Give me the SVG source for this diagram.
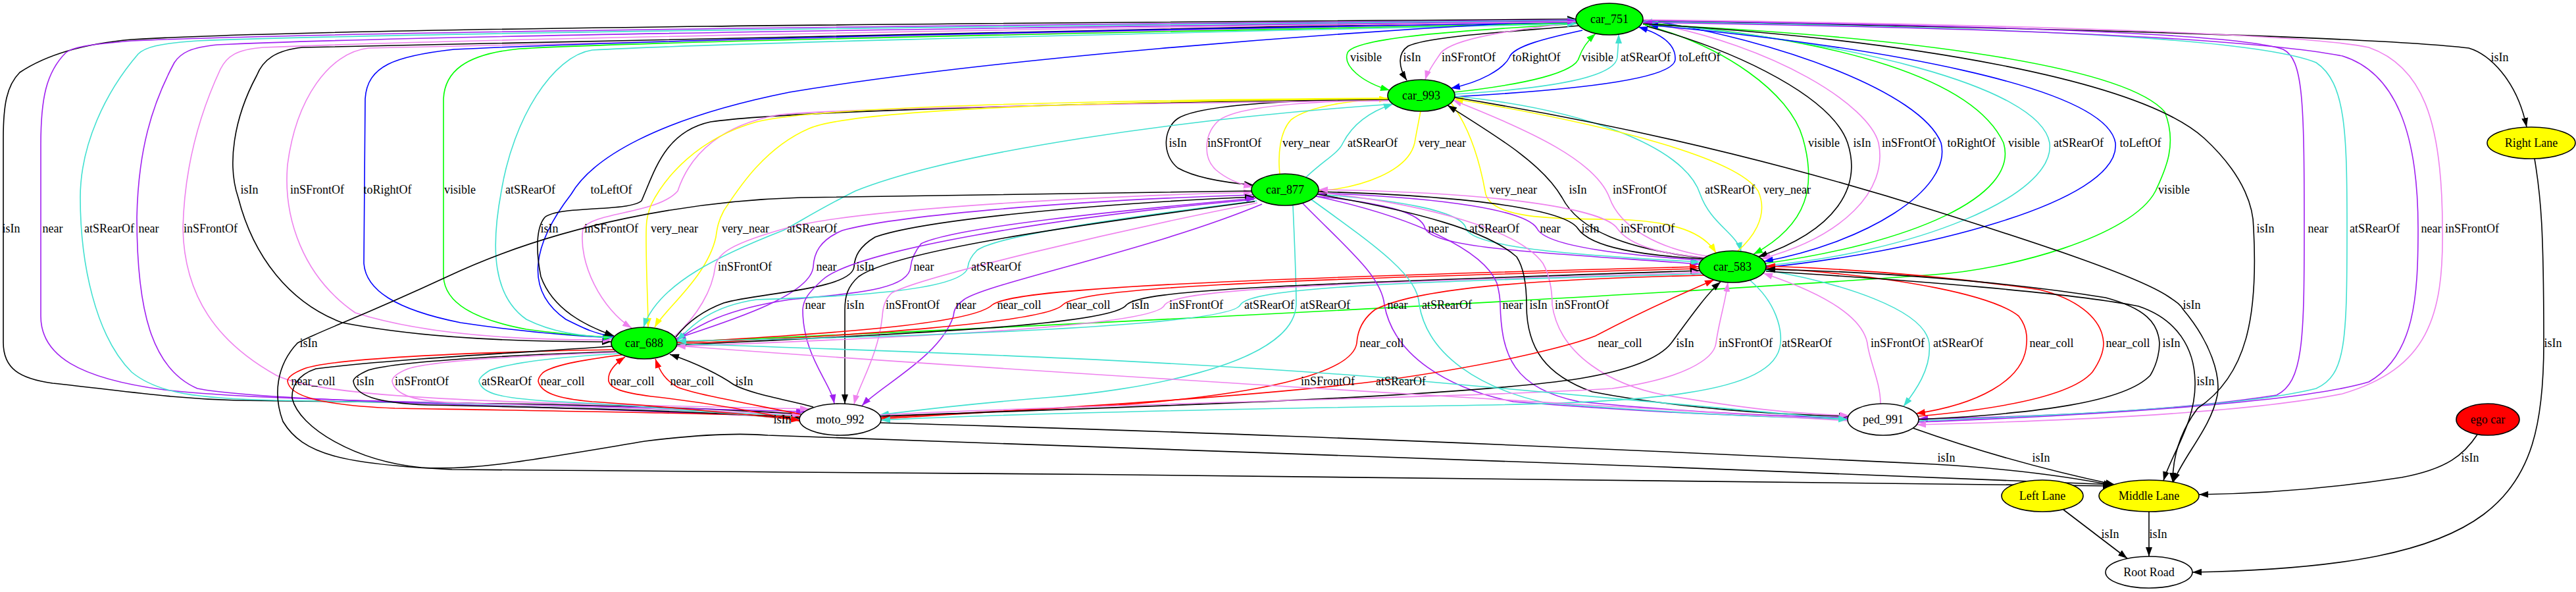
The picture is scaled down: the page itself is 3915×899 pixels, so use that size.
<svg xmlns="http://www.w3.org/2000/svg" width="3915" height="899" viewBox="0 0 3915 899">
<style>
.e{fill:none;stroke-width:1.6}
.k{stroke:#000}.g{stroke:#00ff00}.b{stroke:#0000ff}.t{stroke:#40e0d0}.v{stroke:#ee82ee}.p{stroke:#a020f0}.y{stroke:#ffff00}.r{stroke:#ff0000}
.n{stroke:#000;stroke-width:1.6}
.l{font-family:"Liberation Serif","Times New Roman",serif;font-size:18px;text-anchor:middle;fill:#000}
</style>
<defs>
<marker id="mk" viewBox="0 0 14 10" refX="14" refY="5" markerWidth="14" markerHeight="10" markerUnits="userSpaceOnUse" orient="auto-start-reverse"><path d="M0,0L14,5L0,10z" fill="#000"/></marker>
<marker id="mg" viewBox="0 0 14 10" refX="14" refY="5" markerWidth="14" markerHeight="10" markerUnits="userSpaceOnUse" orient="auto-start-reverse"><path d="M0,0L14,5L0,10z" fill="#00ff00"/></marker>
<marker id="mb" viewBox="0 0 14 10" refX="14" refY="5" markerWidth="14" markerHeight="10" markerUnits="userSpaceOnUse" orient="auto-start-reverse"><path d="M0,0L14,5L0,10z" fill="#0000ff"/></marker>
<marker id="mt" viewBox="0 0 14 10" refX="14" refY="5" markerWidth="14" markerHeight="10" markerUnits="userSpaceOnUse" orient="auto-start-reverse"><path d="M0,0L14,5L0,10z" fill="#40e0d0"/></marker>
<marker id="mv" viewBox="0 0 14 10" refX="14" refY="5" markerWidth="14" markerHeight="10" markerUnits="userSpaceOnUse" orient="auto-start-reverse"><path d="M0,0L14,5L0,10z" fill="#ee82ee"/></marker>
<marker id="mp" viewBox="0 0 14 10" refX="14" refY="5" markerWidth="14" markerHeight="10" markerUnits="userSpaceOnUse" orient="auto-start-reverse"><path d="M0,0L14,5L0,10z" fill="#a020f0"/></marker>
<marker id="my" viewBox="0 0 14 10" refX="14" refY="5" markerWidth="14" markerHeight="10" markerUnits="userSpaceOnUse" orient="auto-start-reverse"><path d="M0,0L14,5L0,10z" fill="#ffff00"/></marker>
<marker id="mr" viewBox="0 0 14 10" refX="14" refY="5" markerWidth="14" markerHeight="10" markerUnits="userSpaceOnUse" orient="auto-start-reverse"><path d="M0,0L14,5L0,10z" fill="#ff0000"/></marker>
</defs>
<rect width="3915" height="899" fill="#fff"/>
<g id="connectors">
<!-- A 751-993 -->
<path class="e g" d="M2398,36 C2250,45 2060,55 2048,80 C2040,100 2070,125 2112,137" marker-end="url(#mg)"/>
<path class="e k" d="M2400,39 C2300,48 2170,55 2140,70 C2125,80 2124,100 2138,122" marker-end="url(#mk)"/>
<path class="e v" d="M2397,34 C2300,45 2210,58 2190,80 C2180,95 2170,108 2166,121" marker-end="url(#mv)"/>
<path class="e b" d="M2405,46 C2350,58 2300,70 2294,87 C2285,105 2250,125 2205,134" marker-end="url(#mb)"/>
<path class="e g" d="M2210,140 C2320,128 2395,110 2400,87 C2405,72 2415,60 2425,51" marker-end="url(#mg)"/>
<path class="e t" d="M2211,143 C2350,135 2455,118 2458,87 C2459,72 2460,62 2460,52" marker-end="url(#mt)"/>
<path class="e b" d="M2210,147 C2420,135 2545,118 2546,90 C2547,65 2520,50 2490,41" marker-end="url(#mb)"/>
<!-- B -->
<path class="e k" d="M2497,32 C3000,40 3600,55 3752,73 C3782,82 3825,120 3840,193" marker-end="url(#mk)"/>
<!-- C 993-877 -->
<path class="e k" d="M2110,150 C1950,152 1820,160 1790,180 C1768,195 1765,235 1790,255 C1820,272 1870,278 1905,281" marker-end="url(#mk)"/>
<path class="e v" d="M2110,152 C1960,154 1870,165 1850,185 C1830,205 1828,240 1848,258 C1862,270 1880,279 1904,284" marker-end="url(#mv)"/>
<path class="e y" d="M1945,264 C1942,235 1945,200 1962,182 C1990,160 2060,152 2110,150" marker-end="url(#my)"/>
<path class="e t" d="M1985,269 C2010,245 2035,232 2041,217 C2055,190 2080,170 2117,158" marker-end="url(#mt)"/>
<path class="e y" d="M2159,169 C2155,190 2152,205 2150,217 C2140,260 2070,285 2004,290" marker-end="url(#my)"/>
<!-- D 751-583 -->
<path class="e g" d="M2500,38 C2620,70 2720,140 2740,210 C2760,280 2750,340 2665,386" marker-end="url(#mg)"/>
<path class="e k" d="M2503,40 C2650,80 2785,150 2808,217 C2830,285 2790,350 2672,390" marker-end="url(#mk)"/>
<path class="e v" d="M2505,34 C2700,70 2840,160 2855,217 C2870,290 2800,360 2677,393" marker-end="url(#mv)"/>
<path class="e b" d="M2505,31 C2700,60 2920,140 2950,217 C2968,290 2830,370 2681,397" marker-end="url(#mb)"/>
<path class="e g" d="M2506,35 C2800,60 3000,120 3045,217 C3070,300 2900,370 2683,400" marker-start="url(#mg)"/>
<path class="e t" d="M2506,36 C2800,60 3100,130 3115,217 C3125,300 2900,385 2684,403" marker-start="url(#mt)"/>
<path class="e b" d="M2506,38 C2850,70 3200,130 3215,217 C3225,310 2900,385 2684,406" marker-start="url(#mb)"/>
<!-- E 751-688 -->
<path class="e k" d="M2396,31 C1500,45 800,62 460,72 C420,76 400,90 390,115 C355,180 345,250 362,300 C385,390 440,460 520,490 C650,515 800,519 929,519" marker-end="url(#mk)"/>
<path class="e v" d="M2396,33 C1600,45 900,60 560,73 C500,80 450,150 437,250 C430,330 460,420 540,475 C650,510 800,517 930,516" marker-end="url(#mv)"/>
<path class="e b" d="M2396,34 C1700,45 1000,60 690,75 C600,85 558,100 555,150 L553,400 C556,440 600,470 700,490 C800,505 870,510 930,513" marker-end="url(#mb)"/>
<path class="e g" d="M2396,35 C1700,50 1000,62 790,74 C705,82 676,110 674,150 L674,420 C676,460 720,485 800,500 C860,508 900,511 931,512" marker-end="url(#mg)"/>
<path class="e t" d="M2396,36 C1700,52 1100,65 900,76 C840,85 780,180 762,290 C745,380 750,450 800,485 C840,505 880,510 932,513" marker-start="url(#mt)"/>
<path class="e b" d="M2396,30 C2000,50 1500,90 1200,140 C1000,180 900,240 868,295 C810,370 795,440 860,485 C890,500 905,507 932,511" marker-start="url(#mb)"/>
<path class="e g" d="M2497,37 C2900,55 3230,100 3290,170 C3310,220 3290,260 3276,290 C3240,360 3050,410 2940,417 C2500,450 1500,500 1029,519" marker-end="url(#mg)"/>
<!-- F 993-583 -->
<path class="e y" d="M2205,156 C2235,195 2250,250 2258,295 C2268,330 2350,333 2450,333 C2550,335 2590,355 2608,384" marker-end="url(#my)"/>
<path class="e k" d="M2200,160 C2280,210 2345,250 2374,300 C2400,350 2470,378 2590,392" marker-start="url(#mk)"/>
<path class="e v" d="M2208,152 C2330,200 2425,245 2446,300 C2462,345 2520,378 2595,389" marker-start="url(#mv)"/>
<path class="e t" d="M2211,146 C2400,165 2560,220 2584,295 C2600,340 2640,355 2646,382" marker-end="url(#mt)"/>
<path class="e y" d="M2210,150 C2450,190 2640,240 2672,290 C2690,330 2660,365 2640,382" marker-start="url(#my)"/>
<!-- G 751-moto far left -->
<path class="e k" d="M2396,29 C1500,35 500,42 200,60 C110,68 60,90 30,110 C10,130 5,160 5,210 L5,520 C5,560 30,575 80,582 C200,595 260,605 360,608 C700,612 1000,614 1218,629" marker-start="url(#mk)"/>
<path class="e p" d="M2396,30 C1500,38 500,48 200,62 C130,68 110,72 100,80 C70,110 62,150 62,220 L62,480 C62,540 120,575 250,592 C400,610 800,613 1224,625" marker-end="url(#mp)"/>
<path class="e t" d="M2396,31 C1500,40 600,50 300,62 C240,66 220,72 210,82 C160,140 122,220 122,300 C122,400 145,510 200,565 C240,598 300,605 420,608 C800,614 1000,620 1215,632" marker-start="url(#mt)"/>
<path class="e p" d="M2396,32 C1500,42 600,55 330,68 C290,72 275,80 265,95 C230,160 210,230 208,330 C208,470 230,560 300,590 C400,610 800,615 1215,634" marker-start="url(#mp)"/>
<path class="e v" d="M2396,33 C1500,44 700,60 400,72 C360,75 345,85 335,105 C300,180 280,260 278,347 C280,450 330,520 420,570 C500,608 800,612 1230,621" marker-end="url(#mv)"/>
<!-- H 993-688 -->
<path class="e k" d="M2110,151 C1700,155 1200,168 1080,185 C1010,200 995,260 975,305 C955,322 850,312 828,330 C815,345 814,380 822,420 C840,470 890,495 933,510" marker-end="url(#mk)"/>
<path class="e v" d="M2110,153 C1700,157 1250,165 1180,175 C1100,190 1050,230 1030,290 C1000,325 900,322 886,347 C878,400 915,470 960,498" marker-end="url(#mv)"/>
<path class="e y" d="M2110,149 C1700,152 1250,160 1150,185 C1060,210 1010,270 990,310 C982,330 982,340 982,360 C982,420 985,460 985,497" marker-end="url(#my)"/>
<path class="e y" d="M2110,150 C1700,153 1300,165 1230,195 C1160,225 1120,290 1100,320 C1092,335 1090,345 1088,360 C1075,420 1010,470 995,497" marker-end="url(#my)"/>
<path class="e t" d="M2117,158 C1800,180 1450,230 1300,290 C1240,320 1210,340 1190,350 C1100,385 1000,430 978,497" marker-end="url(#mt)"/>
<!-- I 877-583 -->
<path class="e p" d="M2000,298 C2100,308 2160,322 2166,347 C2180,378 2350,384 2583,401" marker-end="url(#mp)"/>
<path class="e t" d="M2002,295 C2120,303 2222,320 2228,347 C2238,380 2450,390 2584,398" marker-end="url(#mt)"/>
<path class="e p" d="M2002,293 C2200,300 2320,320 2336,347 C2350,376 2480,388 2586,395" marker-start="url(#mp)"/>
<path class="e k" d="M2003,291 C2250,298 2380,320 2398,347 C2418,377 2500,388 2588,393" marker-start="url(#mk)"/>
<path class="e v" d="M2004,288 C2300,292 2440,320 2458,347 C2478,375 2530,386 2590,391" marker-start="url(#mv)"/>
<!-- J, K 751-ped / ML -->
<path class="e p" d="M2497,31 C3000,38 3400,50 3470,75 C3500,90 3502,150 3502,347 C3502,520 3500,580 3460,600 C3300,625 3100,633 2916,636" marker-end="url(#mp)"/>
<path class="e t" d="M2497,33 C3000,40 3420,55 3520,95 C3565,125 3567,200 3567,347 C3567,520 3565,570 3520,590 C3400,620 3100,632 2916,639" marker-start="url(#mt)"/>
<path class="e p" d="M2497,34 C3000,42 3400,55 3560,85 C3640,110 3675,200 3675,347 C3675,450 3670,540 3600,580 C3500,610 3200,630 2915,641" marker-start="url(#mp)"/>
<path class="e v" d="M2497,30 C3000,36 3500,50 3600,72 C3680,100 3712,180 3712,347 C3714,480 3690,560 3560,598 C3400,630 3100,640 2913,645" marker-end="url(#mv)"/>
<path class="e k" d="M2497,36 C2900,60 3250,120 3350,210 C3415,270 3425,320 3425,347 C3432,480 3415,570 3340,620 C3310,660 3302,700 3302,732" marker-end="url(#mk)"/>
<!-- L 877-688 -->
<path class="e v" d="M1904,292 C1600,300 1300,320 1200,345 C1110,370 1090,385 1087,405 C1083,440 1060,480 1025,511" marker-start="url(#mv)"/>
<path class="e p" d="M1905,296 C1600,305 1350,330 1280,350 C1245,365 1237,385 1236,405 C1232,450 1100,490 1028,514" marker-end="url(#mp)"/>
<path class="e k" d="M1906,299 C1650,310 1400,335 1330,360 C1305,375 1299,390 1298,405 C1295,440 1150,445 1100,460 C1060,475 1040,495 1027,512" marker-start="url(#mk)"/>
<path class="e p" d="M1908,301 C1700,320 1450,345 1400,370 C1388,385 1385,395 1384,405 C1382,440 1300,445 1200,455 C1100,470 1060,495 1029,516" marker-start="url(#mp)"/>
<path class="e t" d="M1910,305 C1750,325 1520,355 1485,380 C1475,390 1472,397 1471,405 C1468,440 1300,450 1150,455 C1080,465 1050,495 1029,518" marker-end="url(#mt)"/>
<!-- M-a 877-moto -->
<path class="e p" d="M1906,303 C1600,330 1300,380 1250,425 C1228,445 1221,455 1220,470 C1220,540 1262,580 1268,613" marker-end="url(#mp)"/>
<path class="e k" d="M1907,306 C1650,340 1360,380 1305,420 C1288,435 1284,450 1284,470 L1284,613" marker-end="url(#mk)"/>
<path class="e v" d="M1911,308 C1700,350 1400,420 1355,445 C1345,455 1342,465 1341,480 C1335,540 1305,585 1298,614" marker-end="url(#mv)"/>
<path class="e p" d="M1918,310 C1750,380 1500,430 1465,455 C1452,465 1450,470 1449,480 C1430,540 1340,585 1310,616" marker-end="url(#mp)"/>
<path class="e t" d="M1965,312 C1968,380 1970,440 1970,463 C1965,560 1700,595 1600,603 C1450,615 1380,625 1337,630" marker-end="url(#mt)"/>
<!-- M-b 583-688 -->
<path class="e r" d="M1029,520 C1300,505 1480,490 1508,463 C1535,440 1800,425 2582,405" marker-end="url(#mr)"/>
<path class="e r" d="M2582,408 C1900,425 1640,438 1615,463 C1590,490 1300,510 1029,522" marker-end="url(#mr)"/>
<path class="e k" d="M1028,524 C1350,508 1690,495 1712,463 C1735,440 1950,432 2583,411" marker-end="url(#mk)"/>
<path class="e v" d="M1027,526 C1400,512 1760,495 1770,463 C1788,440 2000,430 2585,414" marker-end="url(#mv)"/>
<path class="e t" d="M2586,416 C2100,428 1900,438 1885,463 C1870,495 1400,512 1029,518" marker-end="url(#mt)"/>
<!-- M-c 877-ped -->
<path class="e p" d="M1980,309 C2050,380 2100,420 2104,463 C2118,540 2200,590 2300,610 C2500,626 2650,632 2808,636" marker-end="url(#mp)"/>
<path class="e t" d="M1993,303 C2100,380 2155,420 2157,463 C2170,540 2250,590 2350,612 C2550,628 2680,633 2808,637" marker-end="url(#mt)"/>
<path class="e p" d="M2000,298 C2150,330 2255,380 2275,430 C2279,445 2280,455 2280,463 C2282,540 2300,590 2400,610 C2550,625 2700,632 2809,634" marker-end="url(#mp)"/>
<path class="e k" d="M2002,295 C2150,320 2260,350 2305,390 C2318,410 2320,440 2320,463 C2320,530 2350,570 2420,595 C2550,620 2700,630 2809,632" marker-end="url(#mk)"/>
<path class="e v" d="M2003,292 C2170,310 2310,350 2345,400 C2356,420 2359,440 2359,463 C2370,540 2450,585 2530,600 C2650,620 2720,628 2810,631" marker-end="url(#mv)"/>
<!-- N -->
<path class="e k" d="M1902,290 C1600,295 1300,298 1217,300 C1050,305 850,340 680,420 C540,485 480,505 452,521 C420,555 415,600 430,640 C460,690 520,705 687,713 C1500,720 2600,725 3210,738" marker-end="url(#mk)"/>
<path class="e r" d="M2590,418 C2300,425 2150,440 2090,470 C2070,485 2063,505 2062,521 C2055,570 1900,600 1700,615 C1500,625 1400,630 1339,634" marker-end="url(#mr)"/>
<path class="e r" d="M1339,636 C1600,620 1900,603 2100,578 C2300,550 2400,520 2425,510 C2500,470 2570,440 2605,425" marker-end="url(#mr)"/>
<path class="e k" d="M1338,632 C1700,618 2200,605 2400,575 C2490,560 2525,540 2540,521 C2570,480 2595,445 2615,428" marker-end="url(#mk)"/>
<path class="e v" d="M1337,630 C1700,612 2200,605 2450,590 C2560,575 2605,545 2608,521 C2612,490 2622,460 2626,429" marker-end="url(#mv)"/>
<path class="e t" d="M2660,426 C2700,460 2708,500 2706,521 C2700,600 2500,612 2200,616 C1800,622 1500,630 1339,638" marker-end="url(#mt)"/>
<path class="e v" d="M2858,613 C2858,580 2840,545 2838,521 C2830,480 2770,445 2680,415" marker-end="url(#mv)"/>
<path class="e t" d="M2683,410 C2800,430 2925,470 2932,521 C2936,560 2910,595 2893,617" marker-end="url(#mt)"/>
<path class="e r" d="M2684,407 C2900,420 3030,450 3068,480 C3080,495 3081,510 3080,521 C3078,580 3000,615 2912,628" marker-end="url(#mr)"/>
<path class="e r" d="M2916,632 C3050,620 3150,600 3180,565 C3194,545 3197,530 3197,521 C3195,480 3150,452 3100,440 C2950,418 2800,408 2684,404" marker-end="url(#mr)"/>
<path class="e k" d="M2916,637 C3100,628 3230,610 3268,570 C3280,550 3282,530 3282,521 C3280,490 3260,468 3200,452 C3050,428 2850,412 2684,409" marker-end="url(#mk)"/>
<path class="e k" d="M3852,241 C3862,300 3866,350 3866,521 C3866,760 3800,860 3332,869" marker-end="url(#mk)"/>
<!-- O 688-moto / ped -->
<path class="e r" d="M933,531 C700,535 500,545 462,560 C442,568 437,574 437,579 C440,600 480,615 600,620 C900,625 1100,628 1216,633" marker-end="url(#mr)"/>
<path class="e k" d="M935,534 C750,540 600,550 560,562 C542,570 537,575 537,579 C540,600 570,612 650,615 C900,620 1100,626 1216,635" marker-end="url(#mk)"/>
<path class="e v" d="M938,535 C800,540 660,547 620,560 C600,568 596,575 596,579 C600,600 630,610 700,612 C900,618 1100,624 1218,630" marker-end="url(#mv)"/>
<path class="e t" d="M941,537 C850,542 780,550 745,562 C732,570 728,575 728,579 C732,598 760,605 850,610 C1000,617 1100,628 1215,637" marker-end="url(#mt)"/>
<path class="e r" d="M945,539 C880,547 840,555 825,566 C819,572 818,576 818,579 C822,596 845,605 900,610 C1000,616 1100,626 1216,638" marker-end="url(#mr)"/>
<path class="e r" d="M1218,640 C1150,625 1080,612 990,602 C945,596 928,590 925,579 C923,565 935,552 950,542" marker-end="url(#mr)"/>
<path class="e v" d="M2808,639 C2600,628 2300,610 1972,588 C1800,577 1400,553 1028,525" marker-end="url(#mv)"/>
<path class="e t" d="M1029,522 C1500,537 1800,550 2085,572 C2400,600 2650,625 2808,637" marker-end="url(#mt)"/>
<path class="e r" d="M1216,629 C1150,615 1060,600 1030,588 C1012,578 1003,565 996,545" marker-end="url(#mr)"/>
<path class="e k" d="M1236,618 C1200,608 1140,598 1115,584 C1095,570 1060,552 1018,538" marker-end="url(#mk)"/>
<!-- P, Q, ML, R -->
<path class="e k" d="M930,526 C800,535 600,545 480,560 C450,570 443,590 444,605 C455,650 540,700 640,710 C720,715 800,700 980,670 C1060,660 1120,657 1167,661 C1500,675 2500,705 3213,736" marker-end="url(#mk)"/>
<path class="e k" d="M1338,642 C1600,650 2000,660 2940,705 C3060,712 3150,725 3211,737" marker-end="url(#mk)"/>
<path class="e k" d="M2907,650 C3000,683 3100,712 3214,736" marker-end="url(#mk)"/>
<path class="e k" d="M3765,660 C3745,690 3720,712 3650,725 C3520,745 3420,750 3342,751" marker-end="url(#mk)"/>
<path class="e k" d="M2211,148 C2500,195 2750,260 2940,320 C3100,370 3250,420 3295,450 C3310,460 3314,463 3318,470 C3360,520 3375,570 3370,600 C3360,650 3320,690 3303,732" marker-end="url(#mk)"/>
<path class="e k" d="M2684,412 C2900,425 3150,445 3250,465 C3310,485 3335,530 3336,579 C3338,640 3300,690 3288,730" marker-end="url(#mk)"/>
<path class="e k" d="M3136,774 L3233,848" marker-end="url(#mk)"/>
<path class="e k" d="M3266,777 L3266,845" marker-end="url(#mk)"/>
<g id="edge-labels">
<text class="l" x="2076" y="93">visible</text><text class="l" x="2146" y="93">isIn</text><text class="l" x="2232" y="93">inSFrontOf</text><text class="l" x="2335" y="93">toRightOf</text><text class="l" x="2428" y="93">visible</text><text class="l" x="2501" y="93">atSRearOf</text><text class="l" x="2583" y="93">toLeftOf</text><text class="l" x="3799" y="93">isIn</text>
<text class="l" x="1790" y="223">isIn</text><text class="l" x="1876" y="223">inSFrontOf</text><text class="l" x="1985" y="223">very_near</text><text class="l" x="2086" y="223">atSRearOf</text><text class="l" x="2192" y="223">very_near</text><text class="l" x="2772" y="223">visible</text><text class="l" x="2830" y="223">isIn</text><text class="l" x="2901" y="223">inSFrontOf</text><text class="l" x="2996" y="223">toRightOf</text><text class="l" x="3076" y="223">visible</text><text class="l" x="3159" y="223">atSRearOf</text><text class="l" x="3253" y="223">toLeftOf</text>
<text class="l" x="379" y="294">isIn</text><text class="l" x="482" y="294">inSFrontOf</text><text class="l" x="589" y="294">toRightOf</text><text class="l" x="699" y="294">visible</text><text class="l" x="806" y="294">atSRearOf</text><text class="l" x="929" y="294">toLeftOf</text><text class="l" x="2300" y="294">very_near</text><text class="l" x="2398" y="294">isIn</text><text class="l" x="2492" y="294">inSFrontOf</text><text class="l" x="2629" y="294">atSRearOf</text><text class="l" x="2716" y="294">very_near</text><text class="l" x="3304" y="294">visible</text>
<text class="l" x="17" y="353">isIn</text><text class="l" x="80" y="353">near</text><text class="l" x="166" y="353">atSRearOf</text><text class="l" x="226" y="353">near</text><text class="l" x="320" y="353">inSFrontOf</text><text class="l" x="835" y="353">isIn</text><text class="l" x="929" y="353">inSFrontOf</text><text class="l" x="1025" y="353">very_near</text><text class="l" x="1133" y="353">very_near</text><text class="l" x="1234" y="353">atSRearOf</text><text class="l" x="2186" y="353">near</text><text class="l" x="2271" y="353">atSRearOf</text><text class="l" x="2356" y="353">near</text><text class="l" x="2417" y="353">isIn</text><text class="l" x="2504" y="353">inSFrontOf</text><text class="l" x="3443" y="353">isIn</text><text class="l" x="3523" y="353">near</text><text class="l" x="3609" y="353">atSRearOf</text><text class="l" x="3695" y="353">near</text><text class="l" x="3757" y="353">inSFrontOf</text>
<text class="l" x="1132" y="411">inSFrontOf</text><text class="l" x="1256" y="411">near</text><text class="l" x="1315" y="411">isIn</text><text class="l" x="1404" y="411">near</text><text class="l" x="1514" y="411">atSRearOf</text>
<text class="l" x="1239" y="469">near</text><text class="l" x="1300" y="469">isIn</text><text class="l" x="1387" y="469">inSFrontOf</text><text class="l" x="1468" y="469">near</text><text class="l" x="1549" y="469">near_coll</text><text class="l" x="1654" y="469">near_coll</text><text class="l" x="1733" y="469">isIn</text><text class="l" x="1818" y="469">inSFrontOf</text><text class="l" x="1929" y="469">atSRearOf</text><text class="l" x="2014" y="469">atSRearOf</text><text class="l" x="2124" y="469">near</text><text class="l" x="2199" y="469">atSRearOf</text><text class="l" x="2299" y="469">near</text><text class="l" x="2338" y="469">isIn</text><text class="l" x="2404" y="469">inSFrontOf</text><text class="l" x="3331" y="469">isIn</text>
<text class="l" x="469" y="527">isIn</text><text class="l" x="2100" y="527">near_coll</text><text class="l" x="2462" y="527">near_coll</text><text class="l" x="2561" y="527">isIn</text><text class="l" x="2653" y="527">inSFrontOf</text><text class="l" x="2746" y="527">atSRearOf</text><text class="l" x="2884" y="527">inSFrontOf</text><text class="l" x="2976" y="527">atSRearOf</text><text class="l" x="3118" y="527">near_coll</text><text class="l" x="3234" y="527">near_coll</text><text class="l" x="3300" y="527">isIn</text><text class="l" x="3880" y="527">isIn</text>
<text class="l" x="476" y="585">near_coll</text><text class="l" x="555" y="585">isIn</text><text class="l" x="641" y="585">inSFrontOf</text><text class="l" x="770" y="585">atSRearOf</text><text class="l" x="855" y="585">near_coll</text><text class="l" x="961" y="585">near_coll</text><text class="l" x="1052" y="585">near_coll</text><text class="l" x="1131" y="585">isIn</text><text class="l" x="2018" y="585">inSFrontOf</text><text class="l" x="2129" y="585">atSRearOf</text><text class="l" x="3352" y="585">isIn</text>
<text class="l" x="1189" y="643">isIn</text>
<text class="l" x="2958" y="701">isIn</text><text class="l" x="3102" y="701">isIn</text><text class="l" x="3754" y="701">isIn</text>
<text class="l" x="3207" y="817">isIn</text><text class="l" x="3280" y="817">isIn</text>
</g>
</g>
<g id="car_751"><ellipse class="n" cx="2446" cy="29" rx="51" ry="24" fill="#00ff00"/><text class="l" x="2446" y="35">car_751</text></g>
<g id="car_993"><ellipse class="n" cx="2160" cy="145" rx="51" ry="24" fill="#00ff00"/><text class="l" x="2160" y="151">car_993</text></g>
<g id="car_877"><ellipse class="n" cx="1953" cy="288" rx="51" ry="24" fill="#00ff00"/><text class="l" x="1953" y="294">car_877</text></g>
<g id="car_583"><ellipse class="n" cx="2633" cy="405" rx="51" ry="24" fill="#00ff00"/><text class="l" x="2633" y="411">car_583</text></g>
<g id="car_688"><ellipse class="n" cx="979" cy="521" rx="50" ry="24" fill="#00ff00"/><text class="l" x="979" y="527">car_688</text></g>
<g id="moto_992"><ellipse class="n" cx="1277" cy="637" rx="62" ry="24" fill="#fff"/><text class="l" x="1277" y="643">moto_992</text></g>
<g id="ped_991"><ellipse class="n" cx="2862" cy="637" rx="54" ry="24" fill="#fff"/><text class="l" x="2862" y="643">ped_991</text></g>
<g id="right_lane"><ellipse class="n" cx="3847" cy="217" rx="67" ry="24" fill="#ffff00"/><text class="l" x="3847" y="223">Right Lane</text></g>
<g id="ego_car"><ellipse class="n" cx="3781" cy="637" rx="48" ry="24" fill="#ff0000"/><text class="l" x="3781" y="643">ego car</text></g>
<g id="left_lane"><ellipse class="n" cx="3104" cy="753" rx="62" ry="24" fill="#ffff00"/><text class="l" x="3104" y="759">Left Lane</text></g>
<g id="middle_lane"><ellipse class="n" cx="3266" cy="753" rx="76" ry="24" fill="#ffff00"/><text class="l" x="3266" y="759">Middle Lane</text></g>
<g id="root_road"><ellipse class="n" cx="3266" cy="869" rx="66" ry="24" fill="#fff"/><text class="l" x="3266" y="875">Root Road</text></g>
</svg>
